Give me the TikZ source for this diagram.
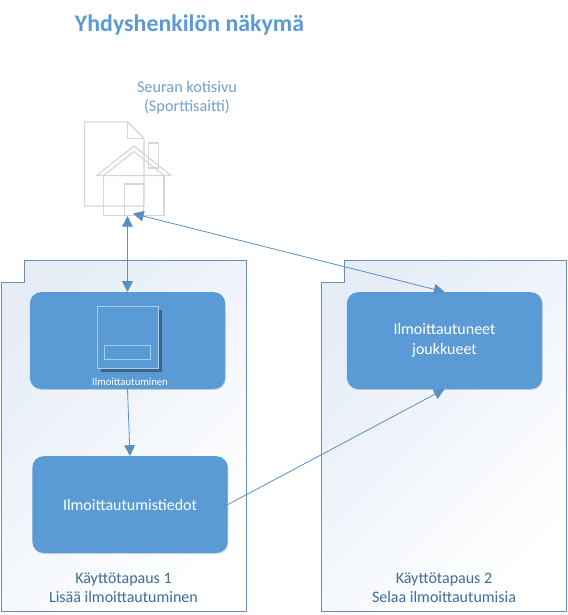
\documentclass[tikz,border=0pt]{standalone}
\usepackage{fontspec}
\setmainfont{Carlito}
\usetikzlibrary{arrows.meta, shadows}

\definecolor{boxblue}{HTML}{5B9BD5}
\definecolor{titleblue}{HTML}{5B9BD5}
\definecolor{linkblue}{HTML}{5A8FC4}
\definecolor{panelline}{HTML}{6A8DB5}
\definecolor{paneltint}{HTML}{E6EDF7}
\definecolor{labelblue}{HTML}{3F6C9B}
\definecolor{iconline}{HTML}{D6D6D6}

\begin{document}
\begin{tikzpicture}[
  x=0.75pt, y=-0.75pt,
  >={Triangle[length=8pt, width=8pt]},
  box/.style={draw=none, fill=boxblue, rounded corners=8.5pt, minimum width=146.5pt,
    minimum height=72.5pt, align=center, text=white, font=\fontsize{12}{15}\selectfont,
    drop shadow={shadow xshift=0.4pt, shadow yshift=-0.8pt, opacity=0.3, fill=boxblue!70!black}},
  panel/.style={draw=panelline, line width=0.6pt, left color=paneltint, right color=white,
    shading angle=45},
  panellabel/.style={align=center, text=labelblue, font=\fontsize{12}{14.2}\selectfont},
  arr/.style={->, draw=linkblue, line width=0.6pt, color=linkblue},
  icon/.style={draw=iconline, line width=0.9pt},
  formline/.style={draw=white!50!boxblue, line width=0.7pt},
]
  \useasboundingbox (0,0) rectangle (568,615);

  % Use case panels
  \path[panel] (1,282) -- (24,282) -- (24,260) -- (246,260) -- (246,611) -- (1,611) -- cycle;
  \path[panel] (321,282) -- (344,282) -- (344,260) -- (566,260) -- (566,611) -- (321,611) -- cycle;

  % Title and home page label
  \node[text=titleblue, font=\fontsize{17.9}{21}\bfseries\selectfont] (title) at (189.5,25) {Yhdyshenkilön näkymä};
  \node[align=center, text=linkblue!85!white, font=\fontsize{12.2}{14.2}\selectfont] (homelabel) at (187,98) {Seuran kotisivu\\(Sporttisaitti)};

  % Home page icon
  \draw[icon] (84.5,122) -- (127.5,122) -- (144,138.5) -- (144,206) -- (84.5,206) -- cycle;
  \draw[icon] (127.5,122) -- (127.5,138.5) -- (144,138.5);
  \draw[icon] (148.5,143) rectangle (158.5,168);
  \draw[icon] (96.5,175.5) -- (134,146) -- (171,175.5) -- cycle;
  \draw[icon] (103.5,175.5) -- (134,151.5) -- (164,175.5);
  \draw[icon] (103.5,175.5) -- (103.5,215.5) -- (164,215.5) -- (164,175.5);
  \draw[icon] (124.5,215.5) -- (124.5,184) -- (143.5,184) -- (143.5,215.5);
  \coordinate (homeleft) at (127.5,216);
  \coordinate (homeright) at (133,213.5);

  % Boxes
  \node[box] (reg) at (127.5,340.5) {};
  \node[box] (tiedot) at (130,504.5) {Ilmoittautumistiedot};
  \node[box] (joukkueet) at (444.5,340.5) {Ilmoittautuneet\\joukkueet};

  % Form inside the first box
  \node[formline, fill=boxblue, minimum width=46pt, minimum height=46pt, inner sep=0pt,
    general shadow={shadow xshift=2.5pt, shadow yshift=-2.5pt, fill=boxblue!65!black}] (form) at (128,337.5) {};
  \node[formline, minimum width=34pt, minimum height=10.5pt, inner sep=0pt] (field) at (127.5,352) {};
  \node[text=white, font=\fontsize{8}{9}\selectfont, inner sep=0pt] (formlabel) at (130,382) {Ilmoittautuminen};

  % Panel captions
  \node[panellabel] (case1) at (123.5,588) {Käyttötapaus 1\\Lisää ilmoittautuminen};
  \node[panellabel] (case2) at (444,588) {Käyttötapaus 2\\Selaa ilmoittautumisia};

  % Connections
  \draw[arr, <->] (homeleft) -- (reg.north);
  \draw[arr, <->] (homeright) -- (joukkueet.north);
  \draw[arr] (reg.south) -- (tiedot.north);
  \draw[arr] (tiedot.east) -- (joukkueet.south);

\end{tikzpicture}
\end{document}
